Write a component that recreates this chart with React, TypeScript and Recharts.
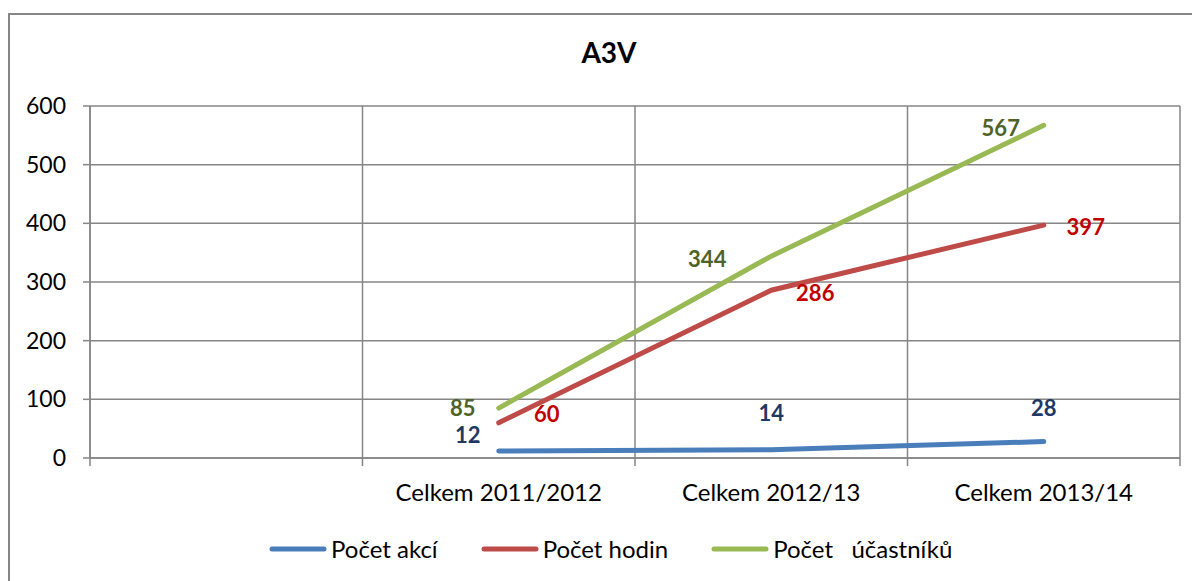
import React from "react";
import { LineChart, Line, XAxis, YAxis, CartesianGrid, Legend, LabelList } from "recharts";

const categories = ["", "Celkem 2011/2012", "Celkem 2012/13", "Celkem 2013/14"];
const pocetAkci = [null, 12, 14, 28];
const pocetHodin = [null, 60, 286, 397];
const pocetUcastniku = [null, 85, 344, 567];
const yTicks = [0, 100, 200, 300, 400, 500, 600];
const seriesNames = ["Počet akcí", "Počet hodin", "Počet   účastníků"];

const data = categories.map((c, i) => ({
  cat: c,
  akci: pocetAkci[i],
  hodin: pocetHodin[i],
  ucastniku: pocetUcastniku[i],
}));

const FONT = "Lato, 'Open Sans', sans-serif";
const GRID = "#868686";
const TICK_MARGIN = 26;

const labelOffsets: Record<string, Array<[number, number] | null>> = {
  akci: [null, [-31, -16], [0, -37], [0, -34]],
  hodin: [null, [48, -9], [44, 2], [42, 1]],
  ucastniku: [null, [-36, -1], [-64, 2], [-43, 2]],
};

const makeLabel = (key: string, color: string) => (props: any) => {
  const { x, y, value, index } = props;
  const off = labelOffsets[key][index];
  if (value == null || !off) return null;
  return (
    <text
      x={x + off[0]}
      y={y + off[1]}
      textAnchor="middle"
      dominantBaseline="central"
      fill={color}
      fontFamily={FONT}
      fontWeight={700}
      fontSize={22}
    >
      {value}
    </text>
  );
};

const CategoryTick = (props: any) => {
  const { x, y, payload, index, width, visibleTicksCount } = props;
  const n = visibleTicksCount || categories.length;
  const half = width / n / 2;
  const axisY = y - TICK_MARGIN;
  return (
    <g>
      <line x1={x - half} y1={axisY} x2={x - half} y2={axisY + 8} stroke={GRID} strokeWidth={1.5} />
      {index === n - 1 ? (
        <line x1={x + half} y1={axisY} x2={x + half} y2={axisY + 8} stroke={GRID} strokeWidth={1.5} />
      ) : null}
      <text x={x} y={y} dy="0.71em" textAnchor="middle" fontFamily={FONT} fontSize={24} fill="#000">
        {payload.value}
      </text>
    </g>
  );
};

const LegendContent = (props: any) => {
  const payload = [...(props.payload || [])].sort(
    (a: any, b: any) => seriesNames.indexOf(a.value) - seriesNames.indexOf(b.value)
  );
  return (
    <div style={{ display: "flex", paddingLeft: 261, alignItems: "center", height: 30 }}>
      {payload.map((p: any, i: number) => (
        <div key={i} style={{ display: "flex", alignItems: "center", marginRight: 43 }}>
          <svg width={58} height={10} style={{ marginRight: 4 }}>
            <line x1={3} y1={5} x2={55} y2={5} stroke={p.color} strokeWidth={5} strokeLinecap="round" />
          </svg>
          <span style={{ fontFamily: FONT, fontSize: 24, color: "#000", whiteSpace: "pre", lineHeight: "30px" }}>
            {p.value}
          </span>
        </div>
      ))}
    </div>
  );
};

const verticalGen = ({ offset }: any) =>
  categories.map((_, i) => offset.left + (i * offset.width) / categories.length).concat([offset.left + offset.width]);

export default function App() {
  return (
    <div style={{ position: "relative", width: 1192, height: 573, overflow: "hidden", background: "#fff" }}>
      <div
        style={{
          position: "absolute",
          left: 0,
          top: 5,
          width: 1300,
          height: 700,
          borderLeft: `2px solid ${GRID}`,
          borderTop: `2px solid ${GRID}`,
          boxSizing: "border-box",
        }}
      />
      <div
        style={{
          position: "absolute",
          left: 0,
          width: 1202,
          top: 28,
          textAlign: "center",
          fontFamily: FONT,
          fontWeight: 700,
          fontSize: 28,
          color: "#000",
          lineHeight: "32px",
        }}
      >
        A3V
      </div>
      <div style={{ position: "absolute", left: 0, top: 0 }}>
        <LineChart width={1192} height={573} data={data} margin={{ top: 98, right: 20, left: 22, bottom: 17 }}>
          <XAxis
            dataKey="cat"
            scale="band"
            height={76}
            tickLine={false}
            axisLine={{ stroke: GRID, strokeWidth: 1.5 }}
            tickSize={0}
            tickMargin={TICK_MARGIN}
            interval={0}
            tick={<CategoryTick />}
          />
          <YAxis
            domain={[0, 600]}
            ticks={yTicks}
            width={60}
            tickSize={7}
            tickMargin={17}
            tickLine={{ stroke: GRID, strokeWidth: 1.5 }}
            axisLine={{ stroke: GRID, strokeWidth: 1.5 }}
            tick={{ fontFamily: FONT, fontSize: 23, fill: "#000" }}
          />
          <CartesianGrid stroke={GRID} strokeWidth={1.5} verticalCoordinatesGenerator={verticalGen} />
          <Legend verticalAlign="bottom" content={<LegendContent />} wrapperStyle={{ left: 0, width: 1192 }} />
          <Line
            dataKey="akci"
            name={seriesNames[0]}
            stroke="#4A7EBB"
            strokeWidth={5}
            strokeLinecap="round"
            dot={false}
            activeDot={false}
            isAnimationActive={false}
          >
            <LabelList dataKey="akci" content={makeLabel("akci", "#1F3864")} />
          </Line>
          <Line
            dataKey="hodin"
            name={seriesNames[1]}
            stroke="#BE4B48"
            strokeWidth={5}
            strokeLinecap="round"
            dot={false}
            activeDot={false}
            isAnimationActive={false}
          >
            <LabelList dataKey="hodin" content={makeLabel("hodin", "#C00000")} />
          </Line>
          <Line
            dataKey="ucastniku"
            name={seriesNames[2]}
            stroke="#98B954"
            strokeWidth={5}
            strokeLinecap="round"
            dot={false}
            activeDot={false}
            isAnimationActive={false}
          >
            <LabelList dataKey="ucastniku" content={makeLabel("ucastniku", "#4F6228")} />
          </Line>
        </LineChart>
      </div>
    </div>
  );
}
